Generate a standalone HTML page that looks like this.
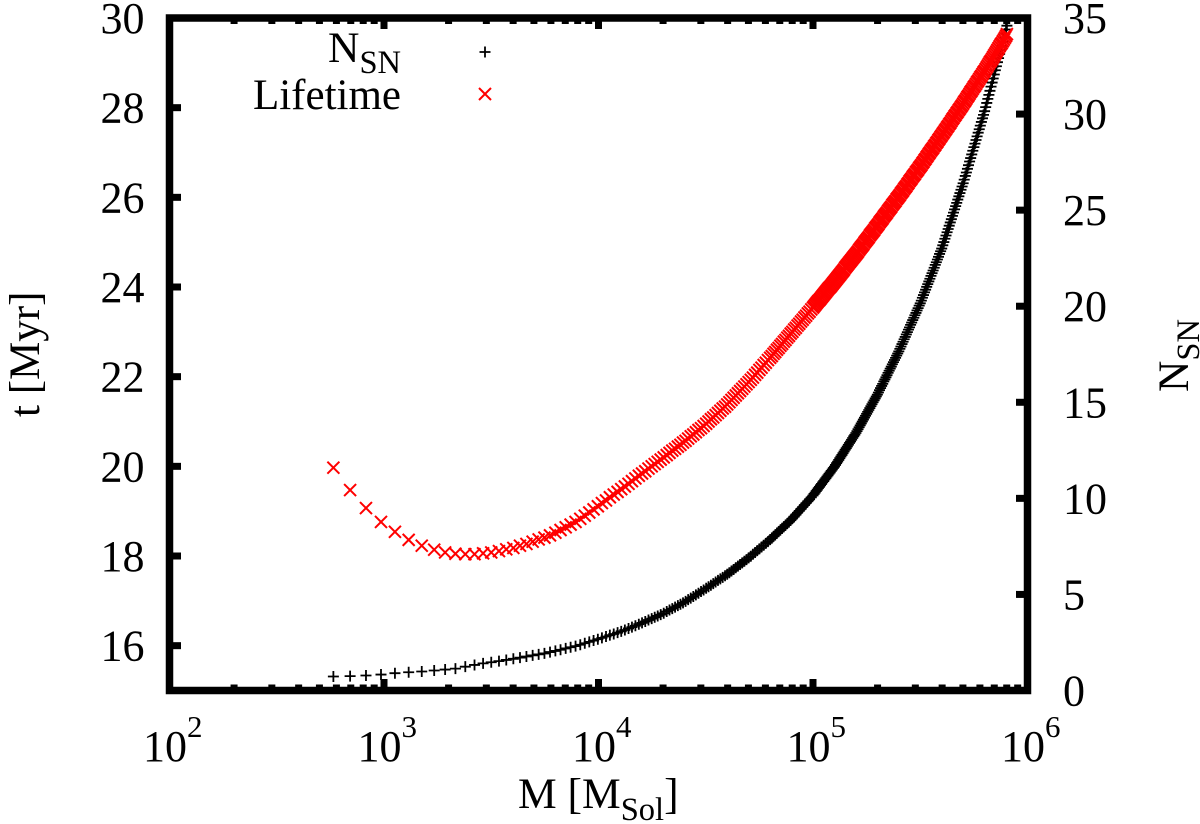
<!DOCTYPE html>
<html lang="en">
<head>
<meta charset="utf-8">
<title>Lifetime and supernova count versus cluster mass</title>
<style>
html,body{margin:0;padding:0;background:#fff;}
svg{display:block;}
text{font-family:"Liberation Serif",serif;fill:#000;}
</style>
</head>
<body>
<svg id="chart" xmlns="http://www.w3.org/2000/svg" width="1200" height="824" viewBox="0 0 1200 824">
  <rect x="0" y="0" width="1200" height="824" fill="#fff"/>
  <g id="marks-nsn"></g>
  <g id="marks-life"></g>
  <g id="ticks"></g>
  <rect x="169.5" y="18" width="858" height="672.5" fill="none" stroke="#000" stroke-width="7.5"/>
  <g id="labels"></g>

  <text x="518" y="808" font-size="43.5">M [M<tspan font-size="32.5" dy="12">Sol</tspan><tspan dy="-12">]</tspan></text>
  <text transform="translate(39 417) rotate(-90)" font-size="43">t [Myr]</text>
  <text transform="translate(1188 392) rotate(-90)" font-size="43.5">N<tspan font-size="32.5" dy="11">SN</tspan></text>

  <g>
    <text x="401" y="62" font-size="43.5" text-anchor="end">N<tspan font-size="32.5" dy="11">SN</tspan></text>
    <path d="M479.5 52H490.5M485 46.5V57.5" stroke="#000" stroke-width="1.8" fill="none"/>
    <text x="401" y="109" font-size="43" text-anchor="end">Lifetime</text>
    <path d="M479 88L491 100M491 88L479 100" stroke="#f00" stroke-width="2" fill="none"/>
  </g>
</svg>
<script>
// Values (log10 of mass, lifetime in Myr, supernova count).
const logMass = [
2.764,2.842,2.916,2.986,3.051,3.115,3.176,3.234,3.285,3.333,
3.379,3.422,3.462,3.500,3.536,3.570,3.603,3.634,3.664,3.693,
3.721,3.748,3.774,3.799,3.823,3.847,3.870,3.893,3.915,3.936,
3.957,3.977,3.997,4.016,4.035,4.053,4.071,4.089,4.106,4.123,
4.140,4.156,4.172,4.188,4.203,4.218,4.233,4.248,4.262,4.276,
4.290,4.304,4.318,4.331,4.344,4.357,4.370,4.382,4.394,4.406,
4.418,4.430,4.442,4.454,4.466,4.478,4.490,4.502,4.513,4.524,
4.535,4.546,4.557,4.568,4.579,4.590,4.600,
4.61,4.62,4.63,4.64,4.65,4.66,4.67,4.68,4.69,4.70,
4.71,4.72,4.73,4.74,4.75,4.76,4.77,4.78,4.79,4.80,
4.808,4.816,4.824,4.832,4.840,4.848,4.856,4.864,4.872,4.880,4.888,4.896,
4.904,4.912,4.920,4.928,4.936,4.944,4.952,4.960,4.968,4.976,4.984,4.992,5.000,
5.005,5.010,5.015,5.020,5.025,5.030,5.035,5.040,5.045,5.050,5.055,5.060,5.065,5.070,5.075,5.080,5.085,5.090,5.095,5.100,
5.105,5.110,5.115,5.120,5.125,5.130,5.135,5.140,5.145,5.150,5.155,5.160,5.165,5.170,5.175,5.180,5.185,5.190,5.195,5.200,
5.205,5.210,5.215,5.220,5.225,5.230,5.235,5.240,5.245,5.250,5.255,5.260,5.265,5.270,5.275,5.280,5.285,5.290,5.295,5.300,
5.305,5.310,5.315,5.320,5.325,5.330,5.335,5.340,5.345,5.350,5.355,5.360,5.365,5.370,5.375,5.380,5.385,5.390,5.395,5.400,
5.405,5.410,5.415,5.420,5.425,5.430,5.435,5.440,5.445,5.450,5.455,5.460,5.465,5.470,5.475,5.480,5.485,5.490,5.495,5.500,
5.505,5.510,5.515,5.520,5.525,5.530,5.535,5.540,5.545,5.550,5.555,5.560,5.565,5.570,5.575,5.580,5.585,5.590,5.595,5.600,
5.605,5.610,5.615,5.620,5.625,5.630,5.635,5.640,5.645,5.650,5.655,5.660,5.665,5.670,5.675,5.680,5.685,5.690,5.695,5.700,
5.705,5.710,5.715,5.720,5.725,5.730,5.735,5.740,5.745,5.750,5.755,5.760,5.765,5.770,5.775,5.780,5.785,5.790,5.795,5.800,
5.805,5.810,5.815,5.820,5.825,5.830,5.835,5.840,5.845,5.850,5.855,5.860,5.865,5.870,5.875,5.880,5.885,5.890,5.895,5.900,
5.904
];
const lifetimeMyr = [
19.97,19.47,19.07,18.76,18.54,18.36,18.23,18.14,18.08,18.05,
18.04,18.04,18.06,18.08,18.11,18.15,18.18,18.23,18.27,18.32,
18.37,18.41,18.46,18.52,18.58,18.64,18.70,18.76,18.83,18.90,
18.97,19.04,19.11,19.18,19.24,19.31,19.37,19.43,19.49,19.55,
19.61,19.67,19.73,19.79,19.84,19.89,19.95,20.00,20.05,20.10,
20.15,20.20,20.25,20.30,20.35,20.39,20.44,20.48,20.53,20.57,
20.62,20.67,20.71,20.76,20.81,20.85,20.90,20.95,21.00,21.05,
21.09,21.14,21.19,21.24,21.29,21.33,21.38,
21.43,21.48,21.53,21.58,21.63,21.68,21.73,21.78,21.83,21.88,
21.93,21.98,22.04,22.09,22.15,22.20,22.26,22.31,22.37,22.42,
22.46,22.51,22.55,22.60,22.64,22.69,22.73,22.78,22.82,22.87,22.91,22.96,
23.00,23.05,23.09,23.14,23.18,23.23,23.27,23.32,23.36,23.41,23.45,23.50,23.54,
23.57,23.60,23.63,23.66,23.69,23.71,23.74,23.77,23.80,23.83,23.86,23.89,23.92,23.95,23.98,24.00,24.03,24.06,24.09,24.12,
24.15,24.18,24.21,24.24,24.27,24.30,24.33,24.36,24.39,24.43,24.46,24.49,24.52,24.55,24.58,24.61,24.64,24.67,24.70,24.73,
24.76,24.79,24.83,24.86,24.89,24.92,24.95,24.99,25.02,25.05,25.08,25.11,25.15,25.18,25.21,25.24,25.27,25.31,25.34,25.37,
25.40,25.44,25.47,25.50,25.53,25.57,25.60,25.63,25.66,25.70,25.73,25.76,25.79,25.83,25.86,25.89,25.92,25.96,25.99,26.02,
26.05,26.09,26.12,26.15,26.19,26.22,26.25,26.29,26.32,26.36,26.39,26.42,26.46,26.49,26.52,26.56,26.59,26.62,26.66,26.69,
26.72,26.76,26.79,26.83,26.86,26.90,26.93,26.97,27.00,27.04,27.07,27.10,27.14,27.17,27.21,27.24,27.28,27.31,27.35,27.38,
27.42,27.45,27.49,27.52,27.56,27.59,27.63,27.66,27.70,27.74,27.77,27.81,27.84,27.88,27.91,27.95,27.98,28.02,28.05,28.09,
28.13,28.16,28.20,28.24,28.27,28.31,28.35,28.38,28.42,28.46,28.49,28.53,28.57,28.60,28.64,28.68,28.71,28.75,28.79,28.82,
28.86,28.90,28.94,28.98,29.02,29.05,29.09,29.13,29.17,29.21,29.25,29.29,29.33,29.37,29.41,29.44,29.48,29.52,29.56,29.60,
29.64
];
const nSupernovae = [
0.73,0.75,0.78,0.83,0.90,0.95,0.99,1.04,1.09,1.14,
1.24,1.33,1.41,1.47,1.53,1.59,1.65,1.71,1.77,1.83,
1.88,1.93,2.00,2.06,2.12,2.19,2.25,2.31,2.38,2.46,
2.53,2.60,2.67,2.74,2.81,2.88,2.94,3.01,3.08,3.15,
3.23,3.30,3.37,3.45,3.52,3.59,3.67,3.74,3.81,3.88,
3.95,4.02,4.11,4.19,4.26,4.34,4.42,4.49,4.56,4.64,
4.73,4.81,4.89,4.98,5.06,5.15,5.23,5.32,5.40,5.48,
5.56,5.65,5.73,5.81,5.89,5.97,6.05,
6.13,6.22,6.30,6.39,6.47,6.56,6.64,6.73,6.81,6.90,
6.99,7.09,7.18,7.28,7.37,7.47,7.56,7.66,7.75,7.85,
7.93,8.02,8.10,8.19,8.27,8.35,8.44,8.52,8.61,8.69,8.77,8.86,
8.95,9.05,9.15,9.25,9.35,9.45,9.55,9.65,9.75,9.85,9.95,10.05,10.15,
10.23,10.30,10.38,10.45,10.53,10.60,10.68,10.75,10.83,10.90,10.98,11.05,11.13,11.20,11.28,11.35,11.43,11.50,11.58,11.65,
11.74,11.83,11.91,12.00,12.09,12.18,12.26,12.35,12.44,12.53,12.61,12.70,12.79,12.88,12.96,13.05,13.14,13.23,13.31,13.40,
13.50,13.60,13.70,13.80,13.90,14.00,14.10,14.20,14.30,14.40,14.50,14.60,14.70,14.80,14.90,15.00,15.10,15.20,15.30,15.40,
15.51,15.63,15.74,15.85,15.96,16.08,16.19,16.30,16.41,16.53,16.64,16.75,16.86,16.98,17.09,17.20,17.31,17.43,17.54,17.65,
17.78,17.90,18.03,18.15,18.28,18.40,18.53,18.65,18.78,18.90,19.03,19.15,19.28,19.40,19.53,19.65,19.78,19.90,20.03,20.15,
20.29,20.44,20.58,20.72,20.86,21.01,21.15,21.29,21.43,21.58,21.72,21.86,22.00,22.15,22.29,22.43,22.57,22.72,22.86,23.00,
23.17,23.34,23.51,23.68,23.85,24.02,24.19,24.36,24.53,24.70,24.87,25.04,25.21,25.38,25.55,25.72,25.89,26.06,26.23,26.40,
26.59,26.78,26.96,27.15,27.34,27.53,27.71,27.90,28.09,28.28,28.46,28.65,28.84,29.03,29.21,29.40,29.59,29.78,29.96,30.15,
30.36,30.58,30.79,31.00,31.21,31.43,31.64,31.85,32.06,32.28,32.49,32.70,32.91,33.13,33.34,33.55,33.76,33.98,34.19,34.40,
34.60
];
const xDecades = [2, 3, 4, 5, 6];
const xMinorFactors = [2, 3, 4, 5, 6, 7, 8, 9];
const yLeftTicks = [16, 18, 20, 22, 24, 26, 28, 30];
const yRightTicks = [0, 5, 10, 15, 20, 25, 30, 35];

const SVG_NS = 'http://www.w3.org/2000/svg';
const xAxis = function (v) { return 169.5 + (v - 2) * 214.5; };
const yLeft = function (v) { return 690.5 - (v - 15) * (672.5 / 15); };
const yRight = function (v) { return 690.5 - v * (672.5 / 35); };

const ticksGroup = document.getElementById('ticks');
const labelsGroup = document.getElementById('labels');
const nsnGroup = document.getElementById('marks-nsn');
const lifeGroup = document.getElementById('marks-life');

function tickPath(d) {
  const p = document.createElementNS(SVG_NS, 'path');
  
  
  p.setAttribute('d', d);
  p.setAttribute('stroke', '#000');
  p.setAttribute('stroke-width', '7');
  p.setAttribute('fill', 'none');
  ticksGroup.appendChild(p);
}

xDecades.forEach(function (dec) {
  const x = xAxis(dec);
  if (dec > 2 && dec < 6) {
    tickPath('M' + x + ' 690V679M' + x + ' 18V29');
  }
  if (dec < 6) {
    xMinorFactors.forEach(function (f) {
      const mx = xAxis(dec + Math.log10(f));
      tickPath('M' + mx + ' 690V684.5M' + mx + ' 18V24');
    });
  }
  const t = document.createElementNS(SVG_NS, 'text');
  
  
  t.setAttribute('x', x - 26.5);
  t.setAttribute('y', '761');
  t.setAttribute('font-size', '44');
  t.textContent = '10';
  const sup = document.createElementNS(SVG_NS, 'tspan');
  
  
  sup.setAttribute('font-size', '31');
  sup.setAttribute('dy', '-24');
  sup.textContent = String(dec);
  t.appendChild(sup);
  labelsGroup.appendChild(t);
});

yLeftTicks.forEach(function (v) {
  const y = yLeft(v);
  if (v < 30) {
    tickPath('M169.5 ' + y + 'H181');
  }
  const t = document.createElementNS(SVG_NS, 'text');
  
  
  t.setAttribute('x', '144.5');
  t.setAttribute('y', y + 15);
  t.setAttribute('font-size', '44');
  t.setAttribute('text-anchor', 'end');
  t.textContent = String(v);
  labelsGroup.appendChild(t);
});

yRightTicks.forEach(function (v) {
  const y = yRight(v);
  if (v > 0 && v < 35) {
    tickPath('M1027.5 ' + y + 'H1016');
  }
  const t = document.createElementNS(SVG_NS, 'text');
  
  
  t.setAttribute('x', '1063');
  t.setAttribute('y', y + 15);
  t.setAttribute('font-size', '44');
  t.textContent = String(v);
  labelsGroup.appendChild(t);
});

logMass.forEach(function (m, i) {
  if (i < nSupernovae.length) {
    const x = xAxis(m);
    const y = yRight(nSupernovae[i]);
    const plus = document.createElementNS(SVG_NS, 'path');
    
    
    plus.setAttribute('d', 'M' + (x - 5.5) + ' ' + y + 'H' + (x + 5.5) + 'M' + x + ' ' + (y - 5.5) + 'V' + (y + 5.5));
    plus.setAttribute('stroke', '#000');
    plus.setAttribute('stroke-width', '1.8');
    plus.setAttribute('fill', 'none');
    nsnGroup.appendChild(plus);
  }
  if (i < lifetimeMyr.length) {
    const x2 = xAxis(m);
    const y2 = yLeft(lifetimeMyr[i]);
    const cross = document.createElementNS(SVG_NS, 'path');
    
    
    cross.setAttribute('d', 'M' + (x2 - 6) + ' ' + (y2 - 6) + 'L' + (x2 + 6) + ' ' + (y2 + 6) + 'M' + (x2 + 6) + ' ' + (y2 - 6) + 'L' + (x2 - 6) + ' ' + (y2 + 6));
    cross.setAttribute('stroke', '#f00');
    cross.setAttribute('stroke-width', '2');
    cross.setAttribute('fill', 'none');
    lifeGroup.appendChild(cross);
  }
});
</script>
</body>
</html>
